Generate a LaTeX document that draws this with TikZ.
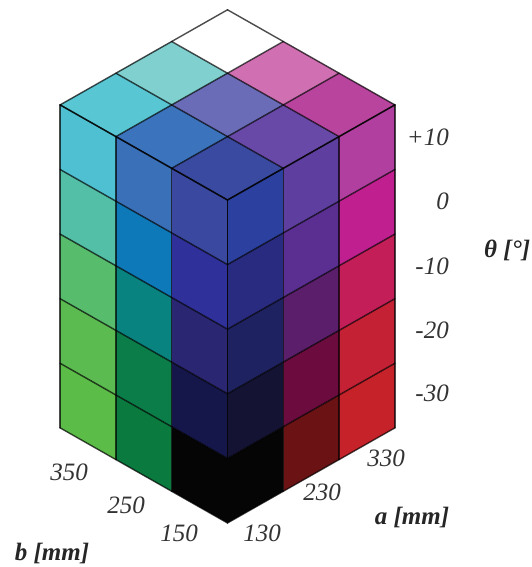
\documentclass[tikz,border=0pt]{standalone}
\usepackage{fontspec}
\setmainfont{Liberation Serif}
% left face (a=130): L<b index><theta index>
\definecolor{L00}{HTML}{050505}\definecolor{L01}{HTML}{15174A}\definecolor{L02}{HTML}{2A2672}\definecolor{L03}{HTML}{2F309A}\definecolor{L04}{HTML}{3A48A0}
\definecolor{L10}{HTML}{0A7A3E}\definecolor{L11}{HTML}{0B7D48}\definecolor{L12}{HTML}{09837F}\definecolor{L13}{HTML}{0E79B9}\definecolor{L14}{HTML}{3A70B8}
\definecolor{L20}{HTML}{5CBC48}\definecolor{L21}{HTML}{5CBB50}\definecolor{L22}{HTML}{57BC6C}\definecolor{L23}{HTML}{52BFA6}\definecolor{L24}{HTML}{4FC0D2}
% right face (b=150): R<a index><theta index>
\definecolor{R00}{HTML}{050505}\definecolor{R01}{HTML}{141334}\definecolor{R02}{HTML}{1F2260}\definecolor{R03}{HTML}{292B80}\definecolor{R04}{HTML}{2C40A0}
\definecolor{R10}{HTML}{6A1214}\definecolor{R11}{HTML}{6B0B3E}\definecolor{R12}{HTML}{5B1E6A}\definecolor{R13}{HTML}{5B2E91}\definecolor{R14}{HTML}{5E3F9F}
\definecolor{R20}{HTML}{C6222A}\definecolor{R21}{HTML}{C52134}\definecolor{R22}{HTML}{C41E58}\definecolor{R23}{HTML}{C0208F}\definecolor{R24}{HTML}{B13FA0}
% top face (theta=+10): T<a index><b index>
\definecolor{T00}{HTML}{3A4AA0}\definecolor{T10}{HTML}{6949A8}\definecolor{T20}{HTML}{B8449E}
\definecolor{T01}{HTML}{3B73BD}\definecolor{T11}{HTML}{6B6CB8}\definecolor{T21}{HTML}{D070B2}
\definecolor{T02}{HTML}{58C6D3}\definecolor{T12}{HTML}{80D0D0}\definecolor{T22}{HTML}{FFFFFF}
\begin{document}
\begin{tikzpicture}[x=1pt,y=1pt,
  gridline/.style={draw=black,draw opacity=0.7,line width=1.4pt,line join=round,line cap=round},
  ticklab/.style={font=\itshape\fontsize{25}{28}\selectfont,inner sep=0pt,text=black!80},
  axislab/.style={font=\bfseries\itshape\fontsize{25}{28}\selectfont,inner sep=0pt,text=black!85}]
\useasboundingbox (0,0) rectangle (532,567);
\fill[white] (0,0) rectangle (532,567);
\begin{scope}[shift={(227.5pt,44pt)},x={(55.8pt,31.7pt)},y={(-55.8pt,31.7pt)},z={(0pt,64.6pt)}]
  % left face
  \foreach \j in {0,1,2}{\foreach \k in {0,...,4}{
    \fill[L\j\k] (0,\j,\k) -- (0,\j+1,\k) -- (0,\j+1,\k+1) -- (0,\j,\k+1) -- cycle;}}
  % right face
  \foreach \i in {0,1,2}{\foreach \k in {0,...,4}{
    \fill[R\i\k] (\i,0,\k) -- (\i+1,0,\k) -- (\i+1,0,\k+1) -- (\i,0,\k+1) -- cycle;}}
  % top face
  \foreach \i in {0,1,2}{\foreach \j in {0,1,2}{
    \fill[T\i\j] (\i,\j,5) -- (\i+1,\j,5) -- (\i+1,\j+1,5) -- (\i,\j+1,5) -- cycle;}}
  % grid lines
  \foreach \n in {0,...,3}{
    \draw[gridline] (0,\n,0) -- (0,\n,5);
    \draw[gridline] (\n,0,0) -- (\n,0,5);
    \draw[gridline] (\n,0,5) -- (\n,3,5);
    \draw[gridline] (0,\n,5) -- (3,\n,5);}
  \foreach \k in {0,...,5}{
    \draw[gridline] (0,3,\k) -- (0,0,\k) -- (3,0,\k);}
\end{scope}
% theta tick labels
\node[ticklab,anchor=east] (tp10) at (449,430) {+10};
\node[ticklab,anchor=east] (t0)   at (449,366) {0};
\node[ticklab,anchor=east] (tm10) at (449,301) {-10};
\node[ticklab,anchor=east] (tm20) at (449,237) {-20};
\node[ticklab,anchor=east] (tm30) at (449,174) {-30};
\node[axislab,anchor=west] (theta) at (484,317) {θ [°]};
% b ticks
\node[ticklab] (b350) at (69,95) {350};
\node[ticklab] (b250) at (126,62) {250};
\node[ticklab] (b150) at (179,34) {150};
\node[axislab] (blab) at (52,14) {b [mm]};
% a ticks
\node[ticklab] (a130) at (262,34) {130};
\node[ticklab] (a230) at (322,75) {230};
\node[ticklab] (a330) at (386,109) {330};
\node[axislab] (alab) at (412,50) {a [mm]};
\end{tikzpicture}
\end{document}
